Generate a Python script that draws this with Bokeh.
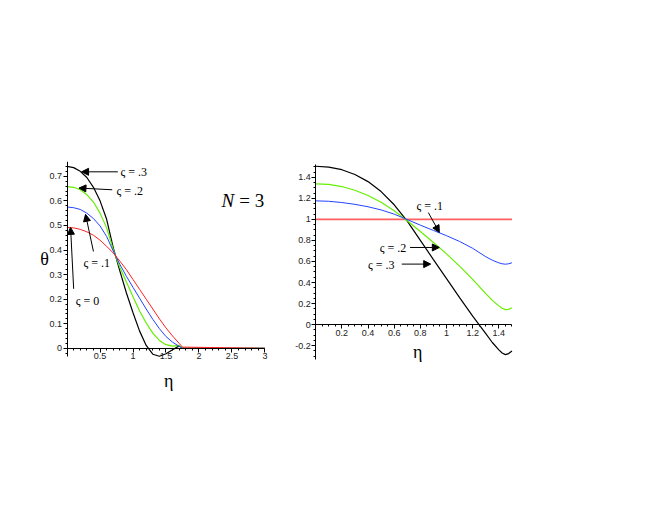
from bokeh.plotting import figure
from bokeh.layouts import row
from bokeh.models import (Range1d, FixedTicker, CustomJSTickFormatter, Arrow,
                          NormalHead, Label)
from bokeh.embed import file_html
from bokeh.resources import INLINE

# ---------------- data: left panel (N = 3) ----------------
eta_left = [0, 0.1, 0.2, 0.3, 0.4, 0.5, 0.6, 0.7, 0.8, 0.9, 1.0, 1.1, 1.2,
            1.3, 1.4, 1.5, 1.6, 1.7, 1.75, 3.0]
theta_l_s3 = [0.740, 0.735, 0.720, 0.695, 0.655, 0.600, 0.525, 0.410, 0.315,
              0.225, 0.145, 0.070, 0.012, -0.024, -0.032, -0.022, -0.006,
              0.010, 0.0, 0.0]
theta_l_s2 = [0.658, 0.655, 0.645, 0.625, 0.595, 0.550, 0.490, 0.402, 0.330,
              0.270, 0.210, 0.152, 0.103, 0.062, 0.032, 0.015, 0.009, 0.012,
              0.0, 0.0]
theta_l_s1 = [0.575, 0.572, 0.565, 0.550, 0.528, 0.498, 0.455, 0.396, 0.342,
              0.293, 0.248, 0.204, 0.160, 0.118, 0.080, 0.048, 0.025, 0.008,
              0.0, 0.0]
theta_l_s0 = [0.492, 0.490, 0.484, 0.474, 0.460, 0.440, 0.415, 0.388, 0.355,
              0.320, 0.280, 0.240, 0.200, 0.160, 0.120, 0.083, 0.050, 0.020,
              0.005, 0.0]

# ---------------- data: right panel ----------------
eta_right = [0, 0.1, 0.2, 0.3, 0.4, 0.5, 0.6, 0.7, 0.8, 0.9, 1.0, 1.1, 1.2,
             1.3, 1.35, 1.4, 1.425, 1.45, 1.475, 1.5]
theta_r_s3 = [1.505, 1.497, 1.472, 1.427, 1.359, 1.264, 1.139, 0.984, 0.800,
              0.618, 0.437, 0.257, 0.080, -0.085, -0.170, -0.240, -0.270,
              -0.285, -0.275, -0.250]
theta_r_s2 = [1.338, 1.332, 1.312, 1.277, 1.227, 1.162, 1.082, 0.987, 0.885,
              0.780, 0.672, 0.556, 0.430, 0.295, 0.230, 0.178, 0.155, 0.142,
              0.145, 0.160]
theta_r_s1 = [1.176, 1.172, 1.160, 1.143, 1.120, 1.090, 1.050, 0.998, 0.945,
              0.895, 0.845, 0.790, 0.725, 0.645, 0.612, 0.587, 0.578, 0.574,
              0.578, 0.588]
theta_r_s0 = [1.0] * len(eta_right)

left_xticks = [0.5, 1, 1.5, 2, 2.5, 3]
left_yticks = [0, 0.1, 0.2, 0.3, 0.4, 0.5, 0.6, 0.7]
right_xticks = [0.2, 0.4, 0.6, 0.8, 1.0, 1.2, 1.4]
right_yticks = [-0.2, 0, 0.2, 0.4, 0.6, 0.8, 1.0, 1.2, 1.4]

BLACK = "#000000"
GREEN = "#66ee00"
BLUE = "#2244ff"
RED = "#ff2020"
SERIF = "'Liberation Serif', 'Times New Roman', serif"
SANS = "'Liberation Sans', Arial, sans-serif"


def style_axes(p, xb, yb, xt, yt, xminor, yminor):
    for ax, ticks, minor, b in ((p.xaxis[0], xt, xminor, xb),
                                (p.yaxis[0], yt, yminor, yb)):
        ax.fixed_location = 0
        ax.bounds = b
        ax.ticker = FixedTicker(ticks=ticks, minor_ticks=minor)
        ax.formatter = CustomJSTickFormatter(
            code="return String(Math.round(tick*100)/100)")
        ax.major_tick_in = 0
        ax.major_tick_out = 4
        ax.minor_tick_in = 0
        ax.minor_tick_out = 2
        ax.axis_line_color = "black"
        ax.major_tick_line_color = "black"
        ax.minor_tick_line_color = "black"
        ax.major_label_text_font = SANS
        ax.major_label_text_font_size = "9px"
        ax.major_label_text_color = "#222222"
        ax.major_label_standoff = 1


def arrow(p, x0, y0, x1, y1):
    p.add_layout(Arrow(end=NormalHead(size=7, fill_color="black",
                                      line_color="black"),
                       x_start=x0, y_start=y0, x_end=x1, y_end=y1,
                       line_color="black", line_width=1))


def label(p, x, y, txt, size="12px", style="normal", align="left"):
    p.add_layout(Label(x=x, y=y, text=txt, text_font=SERIF,
                       text_font_size=size, text_font_style=style,
                       text_baseline="middle", text_align=align,
                       text_color="black"))


# ---------------- left figure ----------------
p1 = figure(width=280, height=410, output_backend="svg", toolbar_location=None,
            x_range=Range1d(-0.6, 3.1), y_range=Range1d(-0.2, 0.76),
            min_border_left=27, min_border_right=9, min_border_top=161,
            min_border_bottom=13)
p1.frame_width = 244
p1.frame_height = 236
p1.xgrid.visible = False
p1.ygrid.visible = False
p1.outline_line_color = None
p1.line(eta_left, theta_l_s3, color=BLACK, line_width=1.2)
p1.line(eta_left, theta_l_s2, color=GREEN, line_width=1.2)
p1.line(eta_left, theta_l_s1, color=BLUE, line_width=1.0)
p1.line(eta_left, theta_l_s0, color=RED, line_width=1.0)
style_axes(p1, (0, 3), (-0.035, 0.76), left_xticks, left_yticks,
           [x / 10 for x in range(1, 31) if x % 5],
           [y / 50 for y in range(-1, 38) if y % 5])

label(p1, 1.54, -0.131, "η", size="18px", align="center")
label(p1, -0.34, 0.365, "θ", size="18px", align="center")

arrow(p1, 0.77, 0.718, 0.22, 0.718)
label(p1, 0.81, 0.718, "ς = .3")
arrow(p1, 0.685, 0.645, 0.18, 0.652)
label(p1, 0.75, 0.642, "ς = .2")
arrow(p1, 0.40, 0.394, 0.28, 0.545)
label(p1, 0.25, 0.349, "ς = .1")
arrow(p1, 0.10, 0.242, 0.053, 0.492)
label(p1, 0.13, 0.194, "ς = 0")
label(p1, 2.34, 0.601, "N", size="19px", style="italic")
label(p1, 2.61, 0.601, "= 3", size="19px")

# ---------------- right figure ----------------
p2 = figure(width=250, height=410, output_backend="svg", toolbar_location=None,
            x_range=Range1d(-0.2, 1.55), y_range=Range1d(-0.36, 1.55),
            min_border_left=9, min_border_right=12, min_border_top=160,
            min_border_bottom=49)
p2.frame_width = 229
p2.frame_height = 201
p2.xgrid.visible = False
p2.ygrid.visible = False
p2.outline_line_color = None
p2.line(eta_right, theta_r_s0, color="#ff6060", line_width=1.6)
p2.line(eta_right, theta_r_s3, color=BLACK, line_width=1.2)
p2.line(eta_right, theta_r_s2, color=GREEN, line_width=1.2)
p2.line(eta_right, theta_r_s1, color=BLUE, line_width=1.0)
style_axes(p2, (0, 1.5), (-0.33, 1.52), right_xticks, right_yticks,
           [x / 20 for x in range(1, 31) if x % 4],
           [y / 20 for y in range(-6, 31) if y % 4])

label(p2, 0.78, -0.263, "η", size="18px", align="center")

arrow(p2, 0.861, 1.065, 0.945, 0.876)
label(p2, 0.77, 1.13, "ς = .1")
arrow(p2, 0.721, 0.733, 0.945, 0.733)
label(p2, 0.49, 0.727, "ς = .2")
arrow(p2, 0.658, 0.575, 0.879, 0.575)
label(p2, 0.40, 0.569, "ς = .3")

layout = row(p1, p2)
open("out.html", "w").write(file_html(layout, INLINE))
